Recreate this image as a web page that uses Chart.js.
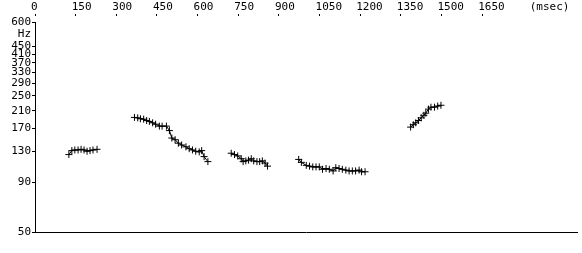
<!DOCTYPE html>
<html>
<head>
<meta charset="utf-8">
<script src="https://cdn.jsdelivr.net/npm/chart.js@4"></script>
<style>
  html, body { margin: 0; padding: 0; background: #fff; }
  canvas { display: block; }
</style>
</head>
<body>
<canvas id="pitch" width="582" height="253"></canvas>
<script>
"use strict"

// pitch contour, 5 voiced stretches (time in msec, F0 in Hz)
const seg1Ms = [125, 136, 147, 159, 170, 181, 192, 203, 214, 229];
const seg1Hz = [125, 131, 132, 132, 133, 132, 130, 131, 132, 133];

const seg2Ms = [367, 379, 389, 401, 412, 422, 434, 445, 459, 469, 485, 496, 505, 517, 529, 541, 557, 569, 581, 593, 606, 615, 624, 638];
const seg2Hz = [194, 193, 191, 190, 187, 185, 182, 179, 175, 175, 175, 166, 152, 149, 143, 140, 137, 134, 132, 130, 129, 131, 122, 115];

const seg3Ms = [724, 736, 748, 761, 768, 778, 788, 798, 807, 819, 829, 839, 849, 858];
const seg3Hz = [127, 125, 123, 119, 115, 116, 117, 119, 116, 115, 115, 116, 113, 109];

const seg4Ms = [973, 983, 1001, 1013, 1025, 1037, 1049, 1061, 1074, 1086, 1100, 1110, 1122, 1134, 1147, 1159, 1171, 1183, 1196, 1205, 1218];
const seg4Hz = [118, 114, 110, 109, 108, 108, 108, 105, 106, 105, 103, 107, 106, 105, 104, 103, 103, 103, 104, 102, 102];

const seg5Ms = [1386, 1396, 1405, 1415, 1425, 1435, 1442, 1452, 1461, 1474, 1486, 1498];
const seg5Hz = [173, 178, 182, 187, 193, 199, 204, 214, 219, 219, 222, 224];

// axis ticks
const xTickValues = [0, 150, 300, 450, 600, 750, 900, 1050, 1200, 1350, 1500, 1650, 1840];
const xTickLabels = ["0", "150", "300", "450", "600", "750", "900", "1050", "1200", "1350", "1500", "1650", "(msec)"];
const yTickValues = [600, 518, 450, 410, 370, 330, 290, 250, 210, 170, 130, 90, 50];
const yTickLabels = ["600", "Hz", "450", "410", "370", "330", "290", "250", "210", "170", "130", "90", "50"];

// unit labels sit in the tick row but get no tick mark
const xTickColors = xTickLabels.map(l => l === "(msec)" ? "rgba(0,0,0,0)" : "#000");
const yTickColors = yTickLabels.map(l => l === "Hz" ? "rgba(0,0,0,0)" : "#000");

const tickFont = { family: "'DejaVu Sans Mono', monospace", size: 11 };

function makeSegment(ms, hz) {
    return {
        data: ms.map((t, i) => ({ x: t, y: hz[i] })),
        showLine: true,
        borderColor: "#000",
        borderWidth: 1,
        pointStyle: "cross",
        pointRadius: 3.5,
        pointBorderColor: "#000",
        pointBorderWidth: 1,
    };
}

const datasets = [
    makeSegment(seg1Ms, seg1Hz),
    makeSegment(seg2Ms, seg2Hz),
    makeSegment(seg3Ms, seg3Hz),
    makeSegment(seg4Ms, seg4Hz),
    makeSegment(seg5Ms, seg5Hz),
];

const ctx = document.getElementById("pitch").getContext("2d");

const chart = new Chart(ctx, {
    type: "scatter",
    data: { datasets },
    options: {
        responsive: false,
        animation: false,
        devicePixelRatio: 1,
        layout: { padding: { left: 0, right: 0, top: 0, bottom: 21 } },
        plugins: {
            legend: { display: false },
            tooltip: { enabled: false },
        },
        scales: {
            x: {
                type: "linear",
                position: "top",
                min: 0,
                max: 2000,
                afterBuildTicks: (s) => { s.ticks = xTickValues.map(v => ({ value: v })); },
                afterFit: (s) => { s.height = 22; },
                border: { display: false },
                grid: {
                    drawOnChartArea: false,
                    tickLength: 8,
                    tickWidth: 1,
                    tickBorderDash: [2, 20],
                    tickColor: xTickColors,
                },
                ticks: {
                    autoSkip: false,
                    maxRotation: 0,
                    align: "start",
                    labelOffset: -4,
                    padding: 0,
                    color: "#000",
                    font: tickFont,
                    callback: (v, i) => xTickLabels[i],
                },
            },
            x2: {
                type: "linear",
                position: "bottom",
                min: 0,
                max: 2000,
                afterFit: (s) => { s.height = 0; },
                ticks: { display: false },
                grid: { display: false },
                border: { display: true, color: "#000", width: 1 },
            },
            y: {
                type: "logarithmic",
                position: "left",
                min: 50,
                max: 600,
                afterBuildTicks: (s) => { s.ticks = yTickValues.map(v => ({ value: v })); },
                afterFit: (s) => { s.width = 35; },
                border: { display: true, color: "#000", width: 1 },
                grid: {
                    drawOnChartArea: false,
                    tickLength: 3,
                    tickWidth: 1,
                    tickColor: yTickColors,
                },
                ticks: {
                    autoSkip: false,
                    padding: 1,
                    color: "#000",
                    font: tickFont,
                    callback: (v, i) => yTickLabels[i],
                },
            },
        },
    },
});
</script>
</body>
</html>
